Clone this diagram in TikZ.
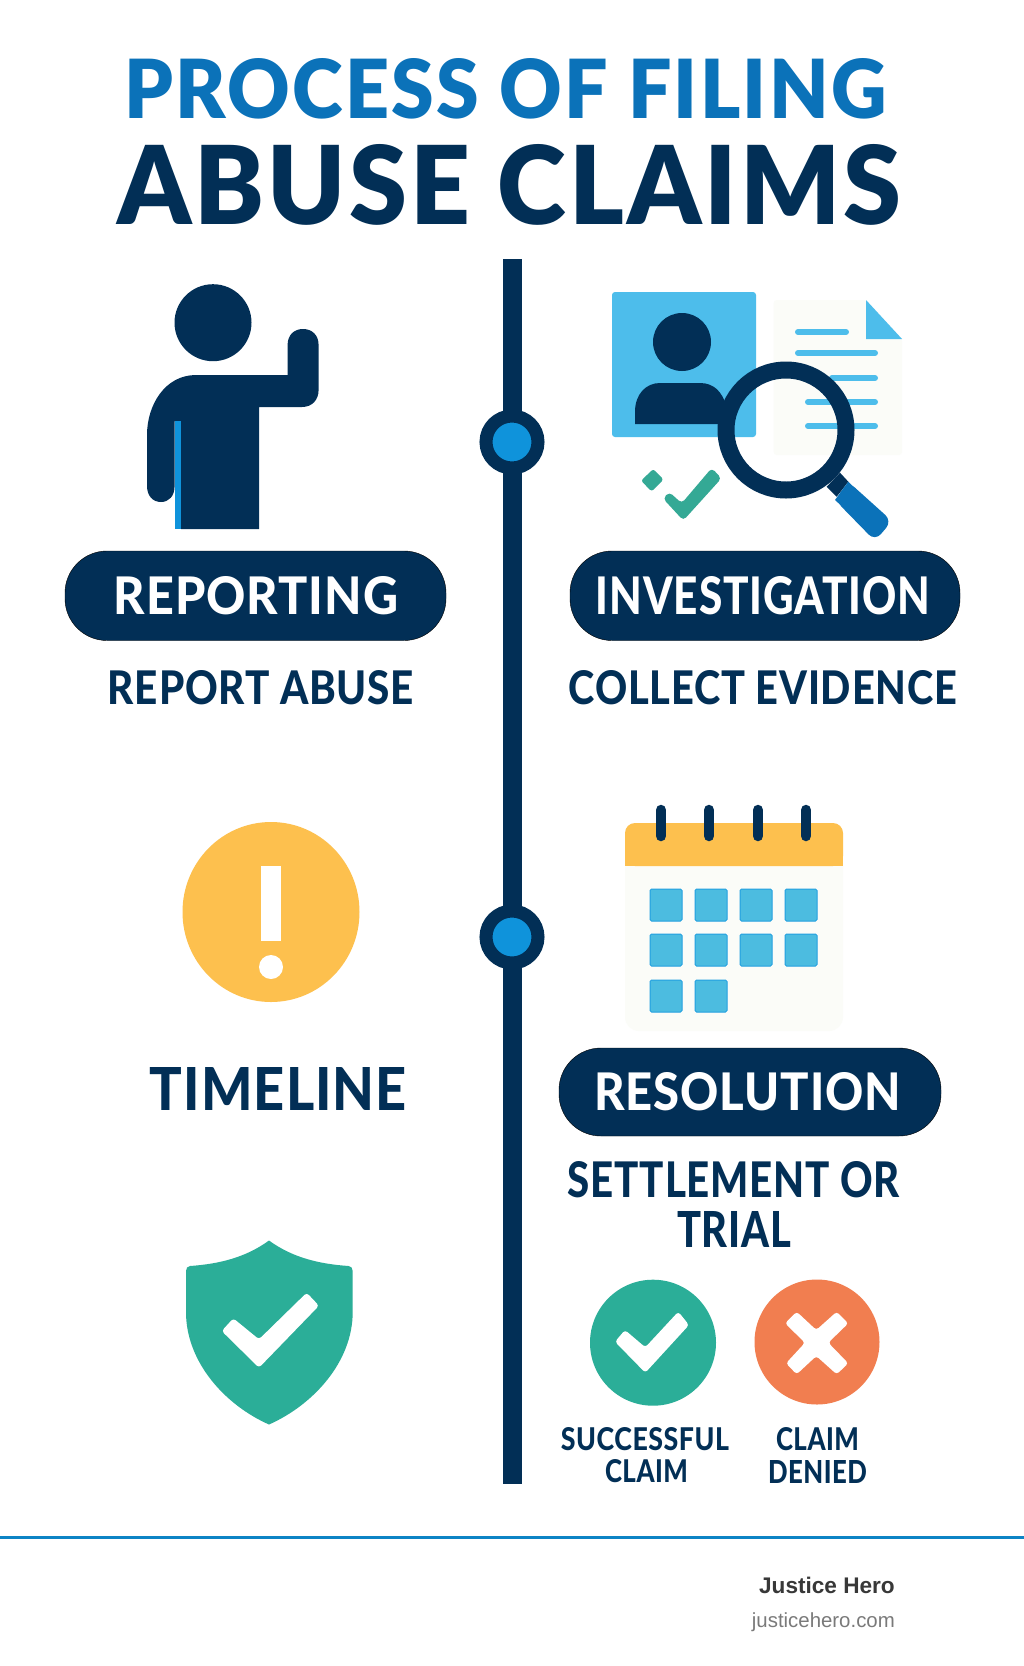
\documentclass[tikz,border=0pt]{standalone}
\usepackage{fontspec}
\setmainfont[LetterSpace=2]{Lato Heavy}
\newfontfamily\blackfont[LetterSpace=3]{Lato Black}
\newfontfamily\footfont{Liberation Sans}
\definecolor{navy}{HTML}{022F56}
\definecolor{titleblue}{HTML}{0B72B9}
\definecolor{midblue}{HTML}{0F93DB}
\definecolor{skyblue}{HTML}{4DBDEB}
\definecolor{dayblue}{HTML}{4CBCE0}
\definecolor{paper}{HTML}{FBFCF8}
\definecolor{sunny}{HTML}{FDC04E}
\definecolor{teal}{HTML}{2BAE98}
\definecolor{coral}{HTML}{F17E50}
\tikzset{
	pill/.style={fill=navy, rounded corners=42pt},
	label/.style={inner sep=0pt, outer sep=0pt, text=navy},
	pilllabel/.style={label, text=white},
	daybox/.style={fill=dayblue, draw=midblue!70!skyblue, line width=1pt, rounded corners=1.5pt},
	docline/.style={line width=6pt, color=skyblue, line cap=round},
	stroke/.style={line width=#1, line cap=round, line join=round},
}
\def\fitted#1#2#3{\resizebox{#1pt}{#2pt}{#3}}

\begin{document}
\begin{tikzpicture}[x=1pt, y=-1pt]
			%%%%% START %%%%%
			
			\useasboundingbox[fill=white] (0, 0) rectangle (1024, 1666);
			
			\node[label, text=titleblue, font=\blackfont] (titletop) at (505.5, 88.5) {\fitted{762}{60}{PROCESS OF FILING}};
			\node[label, font=\blackfont] (titlebottom) at (509.5, 185.3) {\fitted{784}{80}{ABUSE CLAIMS}};
			
			\coordinate (spinetop) at (512, 259);
			\coordinate (spinebottom) at (512, 1484);
			\draw[line width=19pt, color=navy] (spinetop) -- (spinebottom);
			
			\draw[fill=midblue, draw=navy, line width=13pt] (512, 442) circle (26);
			\draw[fill=midblue, draw=navy, line width=13pt] (512, 937) circle (26);
			
			% person with raised hand
			\fill[navy] (213, 322.7) circle (38.5);
			\fill[navy] (181, 529) -- (259, 529) -- (259, 407) -- (302, 407)
				.. controls (312, 407) and (318.6, 400) .. (318.6, 390) -- (318.6, 345)
				.. controls (318.6, 335) and (312, 329) .. (303, 329)
				.. controls (294, 329) and (287.6, 335) .. (287.6, 345) -- (287.6, 375) -- (196, 375)
				.. controls (165, 375) and (147, 405) .. (147, 435) -- (147, 486)
				.. controls (147, 496) and (153, 502) .. (161, 502)
				.. controls (169, 502) and (174.6, 496) .. (174.6, 486) -- (174.6, 421) -- (181, 421) -- cycle;
			\fill[midblue] (174.6, 421) rectangle (180.5, 529);
			
			% evidence card and sheet
			\fill[skyblue, rounded corners=3pt] (612, 292) rectangle (756, 437);
			\fill[navy] (682, 342) circle (29);
			\fill[navy] (635, 424) -- (635, 412) .. controls (635, 394) and (646, 383) .. (660, 383)
				-- (700, 383) .. controls (714, 383) and (722, 392) .. (726, 405) -- (726, 424) -- cycle;
			\fill[paper, rounded corners=3pt] (773.7, 300) -- (866, 300) -- (902, 339) -- (902, 455) -- (773.7, 455) -- cycle;
			\fill[skyblue] (866, 300) -- (902, 339) -- (866, 339) -- cycle;
			\draw[docline] (798, 332) -- (846, 332);
			\draw[docline] (798, 353) -- (875, 353);
			\draw[docline] (832, 378) -- (875, 378);
			\draw[docline] (808, 402) -- (875, 402);
			\draw[docline] (808, 426) -- (875, 426);
			
			% magnifier
			\fill[navy] (826.7, 486.7) -- (840, 472.7) -- (848.3, 481.7) -- (836.7, 496.7) -- cycle;
			\fill[titleblue, rounded corners=9pt] (835, 500) -- (848.3, 481.7) -- (892, 521) -- (875, 541) -- cycle;
			\fill[titleblue] (835, 500) -- (848.3, 481.7) -- (860, 493) -- (846, 510) -- cycle;
			\draw[navy, line width=17pt] (786, 430) circle (60);
			
			% small tick under the card
			\fill[teal!90!gray, rounded corners=2.5pt] (653.3, 469) -- (663.5, 479.5) -- (651.7, 491.5) -- (641, 480.7) -- cycle;
			\fill[teal!90!gray, rounded corners=4pt] (663, 498.5) -- (669.3, 492) -- (681.7, 503.3) -- (711.7, 468) -- (721.5, 478.3) -- (683.3, 520.5) -- cycle;
			
			\draw[pill] (65, 551) rectangle (446, 640.5);
			\node[pilllabel] (reporting) at (256, 595.5) {\fitted{284}{38}{REPORTING}};
			\node[label] (reportabuse) at (261, 688) {\fitted{306}{34}{REPORT ABUSE}};
			
			\draw[pill] (570, 551) rectangle (960, 640.5);
			\node[pilllabel] (investigation) at (763, 595.5) {\fitted{334}{38}{INVESTIGATION}};
			\node[label] (evidence) at (763, 688) {\fitted{388}{34}{COLLECT EVIDENCE}};
			
			% warning disc
			\fill[sunny] (271, 912) ellipse (88.5 and 90);
			\fill[white] (261, 866) rectangle (281, 941);
			\fill[white] (271, 967) circle (12);
			\node[label] (timeline) at (278.5, 1089) {\fitted{257}{43}{TIMELINE}};
			
			% calendar
			\fill[paper, rounded corners=14pt] (625, 850) rectangle (843, 1031);
			\fill[sunny, rounded corners=10pt] (625, 866) -- (625, 823) -- (843, 823) -- (843, 866) -- cycle;
			\fill[sunny] (625, 850) rectangle (843, 866);
			\foreach \ringx in {661, 709, 758, 806} {
				\draw[stroke=10.5pt, color=navy] (\ringx, 810) -- (\ringx, 836);
			}
			\foreach \rowy/\cols in {889/{650,695,740,785}, 934/{650,695,740,785}, 980/{650,695}} {
				\foreach \colx in \cols {
					\draw[daybox] (\colx, \rowy) rectangle ++(32, 32);
				}
			}
			
			\draw[pill] (559, 1048) rectangle (941, 1136);
			\node[pilllabel] (resolution) at (747.5, 1092) {\fitted{307}{38}{RESOLUTION}};
			\node[label] (settlement) at (734, 1180) {\fitted{332}{36}{SETTLEMENT OR}};
			\node[label] (trial) at (734, 1229) {\fitted{114}{36}{TRIAL}};
			
			% shield
			\fill[teal] (269, 1240.5) .. controls (245, 1258) and (218, 1264) .. (190, 1266)
				.. controls (187.5, 1266.3) and (186, 1268) .. (186, 1271)
				-- (186, 1312) .. controls (186, 1362) and (225, 1405) .. (269, 1424.5)
				.. controls (313, 1405) and (352.7, 1362) .. (352.7, 1312) -- (352.7, 1271)
				.. controls (352.7, 1268) and (351, 1266.3) .. (348.7, 1266)
				.. controls (320, 1264) and (293, 1258) .. (269, 1240.5) -- cycle;
			\fill[white, rounded corners=3pt] (221.7, 1331) -- (233.3, 1318.3) -- (259, 1339.3) -- (306.7, 1292.7) -- (319, 1305.7) -- (259, 1367.7) -- cycle;
			
			% outcome discs
			\fill[teal] (653, 1342.7) circle (63);
			\fill[white, rounded corners=3pt] (615, 1341.7) -- (625, 1330) -- (645.3, 1347.3) -- (678.3, 1311.7) -- (689, 1325) -- (645.3, 1372.7) -- cycle;
			\fill[coral] (817, 1342) circle (62.5);
			\fill[white, rounded corners=3pt] (785, 1323.3) -- (796.7, 1311.7) -- (816.3, 1330) -- (836.7, 1311.7) -- (848.3, 1323.3) -- (828.3, 1342.7)
				-- (848.3, 1363.3) -- (836.7, 1374.3) -- (816.3, 1356) -- (796.7, 1374.3) -- (786, 1363.3) -- (805, 1342.7) -- cycle;
			
			\node[label] (successful) at (645, 1439) {\fitted{168}{23}{SUCCESSFUL}};
			\node[label] (claimleft) at (646.5, 1471.5) {\fitted{83}{23}{CLAIM}};
			\node[label] (claimright) at (817.5, 1439) {\fitted{83}{23}{CLAIM}};
			\node[label] (denied) at (817.5, 1471.5) {\fitted{99}{23}{DENIED}};
			
			\coordinate (ruleleft) at (0, 1537);
			\coordinate (ruleright) at (1024, 1537);
			\draw[line width=3pt, color=midblue!90!black] (ruleleft) -- (ruleright);
			
			\node[inner sep=0pt, anchor=base east, text=black!78, font=\footfont\bfseries\fontsize{22.6}{24}\selectfont] (brand) at (895, 1593) {Justice Hero};
			\node[inner sep=0pt, anchor=base east, text=black!52, font=\footfont\fontsize{20.4}{24}\selectfont] (site) at (895, 1627) {justicehero.com};
			
			%%%%% END %%%%%
		\end{tikzpicture}
\end{document}
